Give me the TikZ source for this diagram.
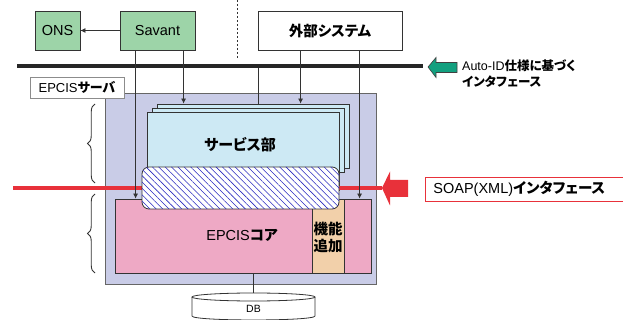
\documentclass[tikz,border=0pt]{standalone}
\usepackage{fontspec}
\setmainfont{Liberation Sans}
\newfontfamily\jp[RawFeature=+palt]{Noto Sans CJK JP}
\usetikzlibrary{patterns.meta,decorations.pathreplacing,arrows.meta,calc}
\definecolor{gboxc}{HTML}{9DD4A8}
\definecolor{lavc}{HTML}{C9CCE7}
\definecolor{svcc}{HTML}{CDE9F4}
\definecolor{pinkc}{HTML}{EEA9C5}
\definecolor{tanc}{HTML}{F2D0AA}
\definecolor{redc}{HTML}{E8313A}
\definecolor{tealc}{HTML}{12A07F}
\definecolor{lc}{HTML}{333333}
\definecolor{hatchc}{HTML}{2A2AC0}
\newcommand\jtxt[1]{{\jp\bfseries #1}}
\begin{document}
\begin{tikzpicture}[x=1pt,y=-1pt,
  font=\fontsize{14.5}{16}\selectfont,
  box/.style={draw=lc, line width=0.8pt, inner sep=0pt},
  ln/.style={draw=lc, line width=0.8pt},
  arr/.style={draw=lc, line width=0.8pt, -{Latex[length=5pt,width=5pt]}}]
\useasboundingbox (0,0) rectangle (623,320);
\clip (0,0) rectangle (623,320);
% top boxes
\node[box, fill=gboxc, minimum width=45, minimum height=39] (ons) at (57.5,30.5) {ONS};
\node[box, fill=gboxc, minimum width=75, minimum height=39] (savant) at (157.5,30.5) {Savant};
\node[box, fill=white, minimum width=144, minimum height=39] (ext) at (330,30.5) {\jtxt{外部システム}};
\draw[arr] (savant.west) -- (ons.east);
\coordinate (dtop) at (237,0);
\coordinate (dbot) at (237,58);
\draw[lc, line width=0.5pt, dash pattern=on 2pt off 2pt] (dtop) -- (dbot);
% bus
\coordinate (busL) at (17,66);
\coordinate (busR) at (423,66);
\draw[line width=4pt, black!85] (busL) -- (busR);
\draw[fill=tealc, draw=black!75, line width=0.6pt] (428,67) -- (436,57.5) -- (436,62.5) -- (457,62.5) -- (457,72.5) -- (436,72.5) -- (436,77.5) -- cycle;
\node[anchor=west, font=\fontsize{12.5}{16}\selectfont, align=left, inner sep=0pt] (auto) at (462,74) {Auto-ID\jtxt{仕様に基づく}\\\jtxt{インタフェース}};
% server
\node[box, draw=black!60, fill=lavc, minimum width=271, minimum height=191] (srv) at (240.5,188.5) {};
\node[draw=black!45, line width=0.8pt, fill=white, minimum width=94, minimum height=21, inner sep=0pt, font=\fontsize{13}{15}\selectfont] (srvlabel) at (77,87.5) {EPCIS\jtxt{サーバ}};
% braces
\coordinate (b1a) at (95,183); \coordinate (b1b) at (95,104);
\coordinate (b2a) at (95,273); \coordinate (b2b) at (95,194);
\draw[black!80, line width=0.9pt, decorate, decoration={brace, amplitude=7.5pt}] (b1a) -- (b1b);
\draw[black!80, line width=0.9pt, decorate, decoration={brace, amplitude=7.5pt}] (b2a) -- (b2b);
% core
\node[box, fill=pinkc, minimum width=256, minimum height=74] (core) at (243,236) {};
\node (corelabel) at (242,235) {EPCIS\jtxt{コア}};
\node[box, fill=tanc, minimum width=32, minimum height=74] (add) at (328,236) {};
\node[align=center, inner sep=0pt, font=\fontsize{14.5}{17}\selectfont] (addlabel) at (328,237) {\jtxt{機能}\\\jtxt{追加}};
% service stack
\node[box, fill=svcc, minimum width=192, minimum height=64] (s3) at (253,136) {};
\node[box, fill=svcc, minimum width=192, minimum height=64] (s2) at (248,140) {};
\node[box, fill=svcc, minimum width=192, minimum height=78] (s1) at (243,151) {};
\node[font=\fontsize{15}{17}\selectfont] (svclabel) at (240,145) {\jtxt{サービス部}};
% red interface
\coordinate (rl) at (13,188);
\coordinate (rtip) at (382,188);
\draw[redc, line width=4pt] (rl) -- (rtip);
\draw[fill=redc, draw=none] (rtip) -- (390,171.5) -- (390,180) -- (408,180) -- (408,197) -- (390,197) -- (390,205.5) -- cycle;
% hatch
\node[draw=lc, line width=0.8pt, fill=white, rounded corners=7pt, minimum width=197, minimum height=42,
  postaction={pattern={Lines[angle=-45,distance=4.5pt,line width=0.55pt]}, pattern color=hatchc}] (hatch) at (240.5,188) {};
\node[draw=redc, line width=0.8pt, fill=white, minimum height=24, anchor=west, inner xsep=8pt, text width=199, align=left] (soap) at (425,189) {SOAP(XML)\jtxt{インタフェース}};
% vertical connectors
\coordinate (a1) at ($(savant.south west)+(16,0)$);
\coordinate (a2) at ($(savant.south west)+(64,0)$);
\coordinate (a3) at ($(ext.south west)+(43,0)$);
\coordinate (a4) at ($(ext.south west)+(102,0)$);
\coordinate (a5) at (258,68);
\draw[arr] (a1) -- (a1 |- core.north);
\draw[arr] (a2) -- (a2 |- s3.north);
\draw[arr] (a3) -- (a3 |- s3.north);
\draw[arr] (a4) -- (a4 |- core.north);
\draw[ln] (a5) -- (a5 |- s3.north);
% DB
\draw[ln, fill=white] (192,297) -- (192,316) .. controls (192,321.3) and (315,321.3) .. (315,316) -- (315,297);
\draw[ln, fill=white] (253.5,297) ellipse [x radius=61.5, y radius=4];
\node[font=\fontsize{10.5}{12}\selectfont] (db) at (253.5,309) {DB};
\coordinate (dbt) at (253.5,293);
\draw[ln] (dbt |- core.south) -- (dbt);
\end{tikzpicture}
\end{document}
